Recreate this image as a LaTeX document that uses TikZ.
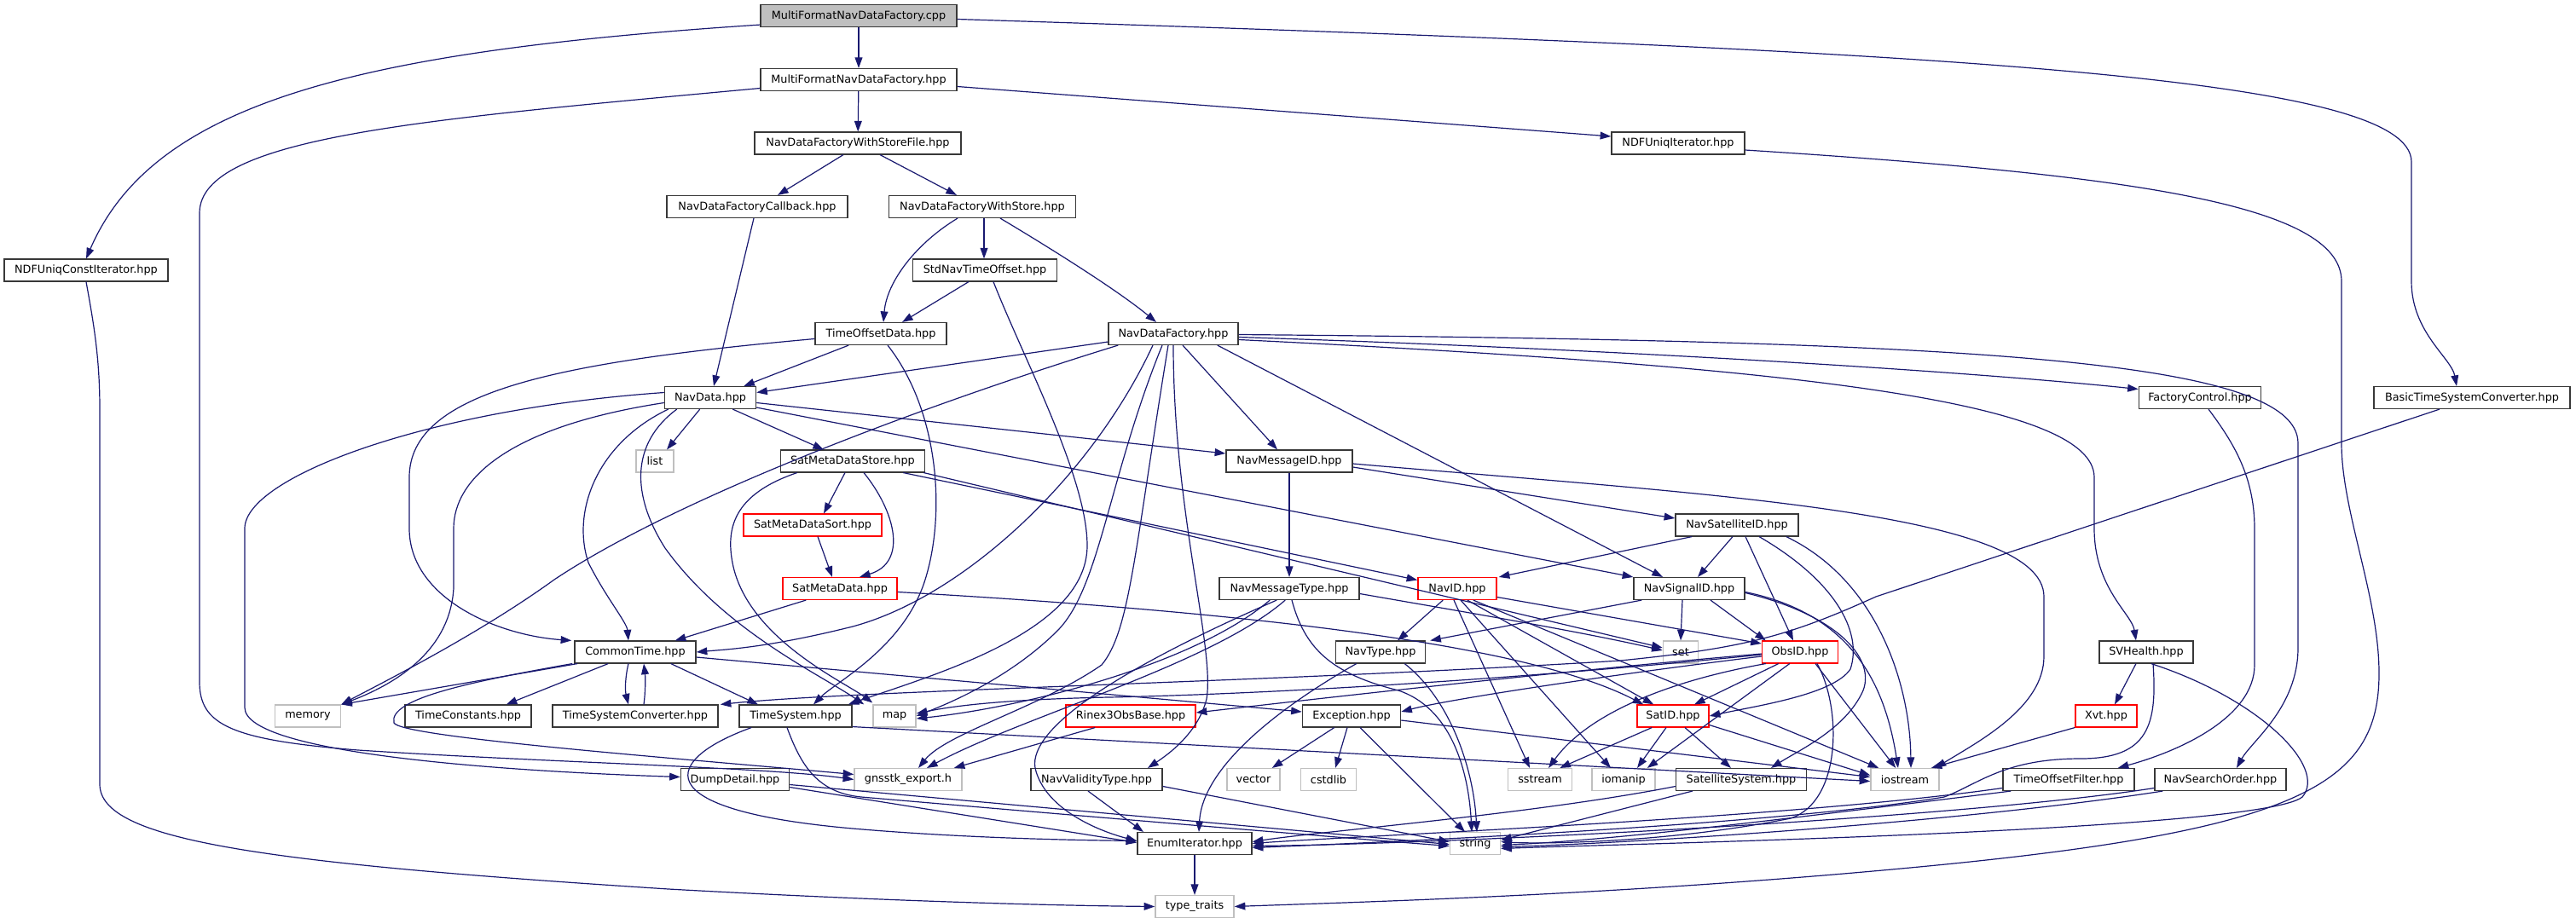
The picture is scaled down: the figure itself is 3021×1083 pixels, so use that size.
\documentclass[tikz,border=0pt]{standalone}
\usepackage{fontspec}
\setmainfont{DejaVu Sans}
\usetikzlibrary{arrows.meta,calc}
\definecolor{edgec}{HTML}{191970}
\definecolor{grayb}{HTML}{BFBFBF}
\begin{document}
\begin{tikzpicture}[x=0.5pt,y=-0.5pt,
 every node/.style={font=\fontsize{6.4}{7}\selectfont},
 box/.style={draw=black!78, line width=0.75pt, fill=white, minimum height=12.8pt, inner sep=0pt, anchor=center},
 bw/.style={minimum width=#1*0.5pt},
 sys/.style={box, draw=grayb},
 trunc/.style={box, draw=red},
 root/.style={box, fill=grayb},
 e/.style={draw=edgec, line width=0.6pt, -{Triangle[length=6.3pt,width=4.4pt]}},
]
\fill[white] (0,0) rectangle (3021,1083);
\useasboundingbox (0,0) rectangle (3021,1083);
% nodes
\node[root,bw=230] (cpp) at (1007,18.5) {MultiFormatNavDataFactory.cpp};
\node[box,bw=230] (mfh) at (1007,93.5) {MultiFormatNavDataFactory.hpp};
\node[box,bw=242] (ndfwsf) at (1006,168) {NavDataFactoryWithStoreFile.hpp};
\node[box,bw=156] (ndfui) at (1968,168) {NDFUniqIterator.hpp};
\node[box,bw=212] (ndfcb) at (888,242.5) {NavDataFactoryCallback.hpp};
\node[box,bw=219] (ndfws) at (1152,242.5) {NavDataFactoryWithStore.hpp};
\node[box,bw=192] (ndfuci) at (101,317) {NDFUniqConstIterator.hpp};
\node[box,bw=169] (sntof) at (1155,317) {StdNavTimeOffset.hpp};
\node[box,bw=154] (tod) at (1033,391.5) {TimeOffsetData.hpp};
\node[box,bw=152] (ndf) at (1376,391.5) {NavDataFactory.hpp};
\node[box,bw=107] (nd) at (833,466.5) {NavData.hpp};
\node[box,bw=143] (fc) at (2580,466.5) {FactoryControl.hpp};
\node[box,bw=230] (btsc) at (2899,466.5) {BasicTimeSystemConverter.hpp};
\node[sys,bw=44] (list) at (768,541) {list};
\node[box,bw=169] (smds) at (1000,541) {SatMetaDataStore.hpp};
\node[box,bw=148] (nmid) at (1512,541) {NavMessageID.hpp};
\node[trunc,bw=162] (smdsort) at (953,616) {SatMetaDataSort.hpp};
\node[box,bw=144] (nsid) at (2037,616) {NavSatelliteID.hpp};
\node[trunc,bw=134] (smd) at (985,690.5) {SatMetaData.hpp};
\node[box,bw=164] (nmt) at (1512,690.5) {NavMessageType.hpp};
\node[trunc,bw=92] (navid) at (1709,690.5) {NavID.hpp};
\node[box,bw=130] (nsig) at (1981,690.5) {NavSignalID.hpp};
\node[box,bw=142] (ct) at (745,765) {CommonTime.hpp};
\node[box,bw=105] (nt) at (1619,765) {NavType.hpp};
\node[sys,bw=41] (set) at (1971,765) {set};
\node[trunc,bw=89] (obs) at (2111,765) {ObsID.hpp};
\node[box,bw=110] (svh) at (2517,765) {SVHealth.hpp};
\node[sys,bw=77] (memory) at (361,840) {memory};
\node[box,bw=148] (tc) at (549,840) {TimeConstants.hpp};
\node[box,bw=194] (tsc) at (745,840) {TimeSystemConverter.hpp};
\node[box,bw=132] (ts) at (933,840) {TimeSystem.hpp};
\node[sys,bw=50] (map) at (1049,840) {map};
\node[trunc,bw=152] (r3) at (1326,840) {Rinex3ObsBase.hpp};
\node[box,bw=115] (exc) at (1585,840) {Exception.hpp};
\node[trunc,bw=84] (sat) at (1962,840) {SatID.hpp};
\node[trunc,bw=72] (xvt) at (2470,840) {Xvt.hpp};
\node[box,bw=127] (dd) at (862,914.5) {DumpDetail.hpp};
\node[sys,bw=126] (gex) at (1065,914.5) {gnsstk\_export.h};
\node[box,bw=154] (nvt) at (1286,914.5) {NavValidityType.hpp};
\node[sys,bw=62] (vector) at (1470,914.5) {vector};
\node[sys,bw=65] (cstdlib) at (1558,914.5) {cstdlib};
\node[sys,bw=75] (sstream) at (1806,914.5) {sstream};
\node[sys,bw=74] (iomanip) at (1904,914.5) {iomanip};
\node[box,bw=153] (ss) at (2042,914.5) {SatelliteSystem.hpp};
\node[sys,bw=80] (iostream) at (2234,914.5) {iostream};
\node[box,bw=154] (tof) at (2426,914.5) {TimeOffsetFilter.hpp};
\node[box,bw=154] (nso) at (2604,914.5) {NavSearchOrder.hpp};
\node[box,bw=134] (ei) at (1401,989.5) {EnumIterator.hpp};
\node[sys,bw=59] (string) at (1730,989.5) {string};
\node[sys,bw=92] (tt) at (1401,1063.5) {type\_traits};
% edges
\draw[e] (cpp) -- (mfh);
\draw[e] ($(cpp.south west)+(0,-3)$) .. controls (420,60) and (180,120) .. (ndfuci.north);
\draw[e] ($(cpp.east)+(0,4)$) .. controls (2300,60) and (2828,90) .. (2828,190) -- (2828,330) .. controls (2828,390) and (2875,420) .. ($(btsc.north)+(-18,0)$);
\draw[e] (mfh) -- (ndfwsf);
\draw[e] ($(mfh.east)+(0,8)$) -- ($(ndfui.west)+(0,-8)$);
\draw[e] ($(mfh.west)+(0,10)$) .. controls (500,140) and (234,160) .. (234,250) -- (234,800) .. controls (234,850) and (270,868) .. (420,880) .. controls (650,895) and (900,900) .. (gex.west);
\draw[e] (ndfuci.south) .. controls (110,380) and (117,420) .. (117,480) -- (117,920) .. controls (117,985) and (300,1012) .. (784,1043) .. controls (1000,1055) and (1200,1062) .. (tt.west);
\draw[e] ($(ndfui.east)+(0,8)$) .. controls (2500,205) and (2746,240) .. (2746,330) -- (2746,520) .. controls (2746,600) and (2790,700) .. (2790,790) .. controls (2790,920) and (2700,975) .. (2240,1018) .. controls (1900,1050) and (1600,1058) .. (tt.east);
\draw[e] ($(ndfwsf.south)+(-17,0)$) -- ($(ndfcb.north)+(24,0)$);
\draw[e] ($(ndfwsf.south)+(26,0)$) -- ($(ndfws.north)+(-30,0)$);
\draw[e] ($(ndfcb.south)+(-4,0)$) -- ($(nd.north)+(4,0)$);
\draw[e] ($(ndfws.south)+(-29,0)$) .. controls (1075,285) and (1040,330) .. ($(tod.north)+(3,0)$);
\draw[e] ($(ndfws.south)+(2,0)$) -- ($(sntof.north)+(-1,0)$);
\draw[e] ($(ndfws.south)+(21,0)$) .. controls (1230,290) and (1310,340) .. ($(ndf.north)+(-20,0)$);
\draw[e] ($(sntof.south)+(-19,0)$) -- ($(tod.north)+(25,0)$);
\draw[e] ($(sntof.south)+(10,0)$) .. controls (1200,420) and (1275,560) .. (1275,640) .. controls (1275,740) and (1100,790) .. ($(ts.north east)+(-5,0)$);
% TimeOffsetData
\draw[e] ($(tod.south west)+(40,0)$) -- ($(nd.north east)+(-15,0)$);
\draw[e] ($(tod.west)+(0,6)$) .. controls (650,425) and (480,460) .. (480,560) -- (480,620) .. controls (480,700) and (580,745) .. ($(ct.north west)+(-3,0)$);
\draw[e] ($(tod.south)+(8,0)$) .. controls (1100,480) and (1110,600) .. (1085,680) .. controls (1060,760) and (980,800) .. ($(ts.north)+(21,0)$);
% NavDataFactory
\draw[e] ($(ndf.south west)+(0,-4)$) -- ($(nd.east)+(0,-6)$);
\draw[e] ($(ndf.south)+(11,0)$) -- ($(nmid.north)+(-14,0)$);
\draw[e] ($(ndf.south east)+(-25,0)$) -- ($(nsig.north)+(-31,0)$);
\draw[e] ($(ndf.east)+(0,4)$) .. controls (1900,410) and (2300,435) .. ($(fc.west)+(0,-10)$);
\draw[e] ($(ndf.east)+(0,7)$) .. controls (2100,430) and (2456,470) .. (2456,560) -- (2456,620) .. controls (2456,690) and (2500,720) .. ($(svh.north)+(-12,0)$);
\draw[e] ($(ndf.east)+(0,1)$) .. controls (2300,400) and (2695,420) .. (2695,520) -- (2695,760) .. controls (2695,830) and (2640,870) .. ($(nso.north)+(19,0)$);
\draw[e] ($(ndf.south west)+(12,0)$) .. controls (1100,470) and (800,580) .. (650,680) .. controls (560,745) and (450,800) .. (memory.north east);
\draw[e] ($(ndf.south)+(-24,0)$) .. controls (1280,560) and (1130,700) .. (1000,735) .. controls (900,760) and (850,762) .. (ct.east);
\draw[e] ($(ndf.south)+(-13,0)$) .. controls (1300,560) and (1290,690) .. (1240,740) .. controls (1180,800) and (1100,830) .. (map.east);
\draw[e] (ndf.south) .. controls (1376,600) and (1425,760) .. (1415,820) .. controls (1405,860) and (1370,885) .. ($(nvt.north)+(60,0)$);
\draw[e] ($(ndf.south)+(-6,0)$) .. controls (1330,650) and (1325,740) .. (1292,780) .. controls (1220,830) and (1110,860) .. ($(gex.north)+(12,0)$);
% NavData
\draw[e] ($(nd.south west)+(42,0)$) -- ($(list.north)+(14,0)$);
\draw[e] ($(nd.south east)+(-28,0)$) -- ($(smds.north)+(-34,0)$);
\draw[e] ($(nd.east)+(0,6)$) -- ($(nmid.west)+(0,-9)$);
\draw[e] ($(nd.south east)+(0,-2)$) -- (nsig.north west);
\draw[e] ($(nd.west)+(0,6)$) .. controls (600,500) and (532,560) .. (532,620) -- (532,690) .. controls (528,760) and (470,800) .. (memory.north east);
\draw[e] ($(nd.south west)+(5,0)$) .. controls (700,520) and (670,600) .. (690,660) .. controls (710,700) and (735,730) .. ($(ct.north)+(-8,0)$);
\draw[e] ($(nd.south west)+(15,0)$) .. controls (740,520) and (740,580) .. (780,643) .. controls (850,740) and (960,790) .. ($(map.north west)+(-10,0)$);
\draw[e] ($(nd.west)+(0,-6)$) .. controls (500,480) and (287,560) .. (287,620) -- (287,830) .. controls (287,885) and (600,905) .. ($(dd.west)+(0,-3)$);
% SatMetaDataStore
\draw[e] ($(smds.south)+(-9,0)$) -- ($(smdsort.north)+(13,0)$);
\draw[e] ($(smds.south)+(13,0)$) .. controls (1050,600) and (1065,660) .. ($(smd.north)+(23,0)$);
\draw[e] ($(smdsort.south)+(6,0)$) -- ($(smd.north)+(-9,0)$);
\draw[e] ($(smds.south west)+(20,0)$) .. controls (860,580) and (850,620) .. (860,665) .. controls (880,750) and (990,800) .. ($(map.north west)+(0,-2)$);
\draw[e] ($(smds.south east)+(-26,0)$) -- ($(navid.west)+(0,-10)$);
\draw[e] ($(smds.south east)+(-2,0)$) -- ($(set.west)+(0,-5)$);
\draw[e] ($(smd.south west)+(28,0)$) -- ($(ct.north east)+(-25,0)$);
\draw[e] ($(smd.east)+(0,4)$) .. controls (1500,720) and (1800,760) .. ($(sat.north west)+(8,0)$);
% NavMessageID
\draw[e] (nmid) -- (nmt);
\draw[e] ($(nmid.east)+(0,7)$) -- ($(nsid.west)+(0,-8)$);
\draw[e] ($(nmid.east)+(0,3)$) .. controls (2000,580) and (2397,600) .. (2397,700) -- (2397,770) .. controls (2397,830) and (2320,870) .. ($(iostream.north east)+(-5,0)$);
% NavSatelliteID
\draw[e] ($(nsid.south west)+(20,0)$) -- ($(navid.north east)+(2,0)$);
\draw[e] ($(nsid.south)+(-5,0)$) -- ($(nsig.north)+(10,0)$);
\draw[e] ($(nsid.south)+(10,0)$) -- ($(obs.north)+(-8,0)$);
\draw[e] ($(nsid.south)+(26,0)$) .. controls (2150,680) and (2185,740) .. (2170,785) .. controls (2150,815) and (2060,828) .. (sat.east);
\draw[e] ($(nsid.south east)+(-15,0)$) .. controls (2200,680) and (2240,800) .. ($(iostream.north)+(7,0)$);
% NavMessageType
\draw[e] ($(nmt.south west)+(60,0)$) .. controls (1400,780) and (1200,830) .. ($(map.east)+(0,3)$);
\draw[e] ($(nmt.south west)+(78,0)$) .. controls (1420,780) and (1200,840) .. ($(gex.north)+(22,0)$);
\draw[e] ($(nmt.south)+(3,0)$) .. controls (1530,760) and (1560,790) .. (1640,810) .. controls (1700,830) and (1722,900) .. ($(string.north)+(-4,0)$);
\draw[e] ($(nmt.south west)+(68,0)$) .. controls (1300,790) and (1200,860) .. (1215,905) .. controls (1230,955) and (1300,978) .. ($(ei.west)+(0,-3)$);
\draw[e] ($(nmt.east)+(0,6)$) .. controls (1700,715) and (1850,740) .. ($(set.west)+(0,-2)$);
% NavID
\draw[e] ($(navid.south west)+(30,0)$) -- ($(nt.north)+(20,0)$);
\draw[e] ($(navid.south)+(-4,0)$) -- ($(sstream.north)+(-12,0)$);
\draw[e] ($(navid.south)+(4,0)$) -- ($(iomanip.north)+(-15,0)$);
\draw[e] ($(navid.south east)+(-35,0)$) -- ($(sat.north west)+(20,0)$);
\draw[e] ($(navid.south east)+(-28,0)$) -- ($(iostream.north west)+(10,0)$);
\draw[e] ($(navid.east)+(0,10)$) -- ($(obs.west)+(0,-10)$);
% NavSignalID
\draw[e] ($(nsig.south west)+(10,0)$) -- ($(nt.north east)+(5,0)$);
\draw[e] ($(nsig.south)+(-8,0)$) -- (set.north);
\draw[e] ($(nsig.south)+(25,0)$) -- ($(obs.north west)+(5,0)$);
\draw[e] ($(nsig.east)+(0,5)$) .. controls (2150,720) and (2200,770) .. (2185,810) .. controls (2165,855) and (2110,880) .. ($(ss.north)+(35,0)$);
\draw[e] ($(nsig.east)+(0,4)$) .. controls (2170,720) and (2210,800) .. ($(iostream.north)+(-8,0)$);
% ObsID
\draw[e] ($(obs.south west)+(20,0)$) -- ($(sat.north)+(25,0)$);
\draw[e] ($(obs.south west)+(5,0)$) .. controls (1950,800) and (1860,840) .. ($(sstream.north)+(10,0)$);
\draw[e] ($(obs.south west)+(33,0)$) -- ($(iomanip.north east)+(-10,0)$);
\draw[e] ($(obs.south)+(18,0)$) -- ($(iostream.north west)+(30,0)$);
\draw[e] ($(obs.south)+(20,0)$) .. controls (2160,830) and (2160,940) .. (2100,960) .. controls (1950,990) and (1800,990) .. ($(string.east)+(0,-2)$);
\draw[e] ($(obs.west)+(0,5)$) .. controls (1900,790) and (1700,820) .. ($(exc.east)+(0,-5)$);
\draw[e] ($(obs.west)+(0,2)$) .. controls (1800,790) and (1500,825) .. ($(r3.east)+(0,-4)$);
\draw[e] ($(obs.west)+(0,3)$) .. controls (1800,795) and (1500,814) .. (1300,818) .. controls (1150,821) and (1100,832) .. ($(map.east)+(0,-3)$);
% SatID
\draw[e] ($(sat.south west)+(18,0)$) -- ($(sstream.north east)+(-15,0)$);
\draw[e] ($(sat.south)+(-8,0)$) -- ($(iomanip.north)+(16,0)$);
\draw[e] ($(sat.south)+(14,0)$) -- ($(ss.north)+(-12,0)$);
\draw[e] ($(sat.south east)+(0,-3)$) -- ($(iostream.west)+(0,-5)$);
% Exception
\draw[e] ($(exc.south west)+(38,0)$) -- ($(vector.north east)+(-10,0)$);
\draw[e] ($(exc.south)+(-5,0)$) -- ($(cstdlib.north)+(8,0)$);
\draw[e] ($(exc.south)+(10,0)$) -- ($(string.north)+(-12,0)$);
\draw[e] ($(exc.east)+(0,5)$) -- ($(iostream.west)+(0,-3)$);
% CommonTime
\draw[e] ($(ct.east)+(0,6)$) -- ($(exc.west)+(0,-5)$);
\draw[e] ($(ct.south west)+(4,0)$) -- (memory.north east);
\draw[e] ($(ct.south west)+(-2,0)$) .. controls (550,800) and (455,820) .. (462,848) .. controls (470,865) and (800,890) .. ($(gex.west)+(0,-6)$);
\draw[e] ($(ct.south west)+(40,0)$) -- ($(tc.north east)+(-30,0)$);
\draw[e] ($(ct.south)+(-8,0)$) .. controls (733,795) and (733,810) .. ($(tsc.north)+(-8,0)$);
\draw[e] ($(tsc.north)+(10,0)$) .. controls (757,812) and (757,795) .. ($(ct.south)+(10,0)$);
\draw[e] ($(ct.south east)+(-30,0)$) -- ($(ts.north)+(-44,0)$);
% TimeSystem
\draw[e] ($(ts.south west)+(15,0)$) .. controls (780,890) and (750,950) .. (1000,972) .. controls (1150,985) and (1300,986) .. ($(ei.west)+(0,-3)$);
\draw[e] ($(ts.south)+(-10,0)$) .. controls (940,900) and (960,930) .. (1010,935) .. controls (1300,960) and (1600,985) .. ($(string.west)+(0,3)$);
\draw[e] ($(ts.south east)+(0,-1)$) -- ($(iostream.west)+(0,2)$);
% bottom rows
\draw[e] ($(dd.east)+(0,9)$) -- ($(ei.west)+(0,-1)$);
\draw[e] ($(dd.east)+(0,6)$) -- ($(string.west)+(0,1)$);
\draw[e] ($(r3.south west)+(35,0)$) -- ($(gex.north east)+(-10,0)$);
\draw[e] ($(nvt.south)+(-10,0)$) -- ($(ei.north)+(-60,0)$);
\draw[e] ($(nvt.east)+(0,8)$) -- ($(string.west)+(0,-2)$);
\draw[e] (ei) -- (tt);
\draw[e] ($(nt.south west)+(25,0)$) .. controls (1500,830) and (1410,900) .. ($(ei.north)+(5,0)$);
\draw[e] ($(nt.south east)+(-25,0)$) .. controls (1700,820) and (1728,900) .. ($(string.north)+(2,0)$);
\draw[e] ($(ss.west)+(0,8)$) .. controls (1800,955) and (1550,975) .. ($(ei.east)+(0,-2)$);
\draw[e] ($(ss.south west)+(20,0)$) -- ($(string.east)+(0,-4)$);
\draw[e] ($(tof.west)+(0,10)$) .. controls (2100,960) and (1600,980) .. (ei.east);
\draw[e] ($(tof.south west)+(10,0)$) .. controls (2100,960) and (1900,985) .. ($(string.east)+(0,2)$);
\draw[e] ($(nso.west)+(0,10)$) .. controls (2300,960) and (1700,990) .. ($(ei.east)+(0,3)$);
\draw[e] ($(nso.south west)+(10,0)$) .. controls (2300,965) and (1900,990) .. ($(string.east)+(0,4)$);
\draw[e] ($(svh.south)+(-12,0)$) -- ($(xvt.north)+(10,0)$);
\draw[e] ($(svh.south)+(8,0)$) .. controls (2530,850) and (2520,890) .. (2440,890) .. controls (2350,890) and (2320,920) .. (2280,935) .. controls (2100,965) and (1700,985) .. ($(ei.east)+(0,5)$);
\draw[e] ($(svh.south east)+(-50,0)$) .. controls (2650,820) and (2730,900) .. (2700,935) .. controls (2650,975) and (1900,990) .. ($(string.east)+(0,6)$);
\draw[e] (xvt.south west) -- ($(iostream.north east)+(-10,0)$);
\draw[e] ($(fc.south)+(10,0)$) .. controls (2620,520) and (2644,560) .. (2644,620) -- (2644,780) .. controls (2644,840) and (2560,880) .. ($(tof.north east)+(-20,0)$);
\draw[e] ($(btsc.south)+(-38,0)$) -- (2200,700) .. controls (2100,745) and (2050,760) .. (1900,775) .. controls (1500,800) and (1000,810) .. ($(tsc.north east)+(2,0)$);
\end{tikzpicture}
\end{document}
